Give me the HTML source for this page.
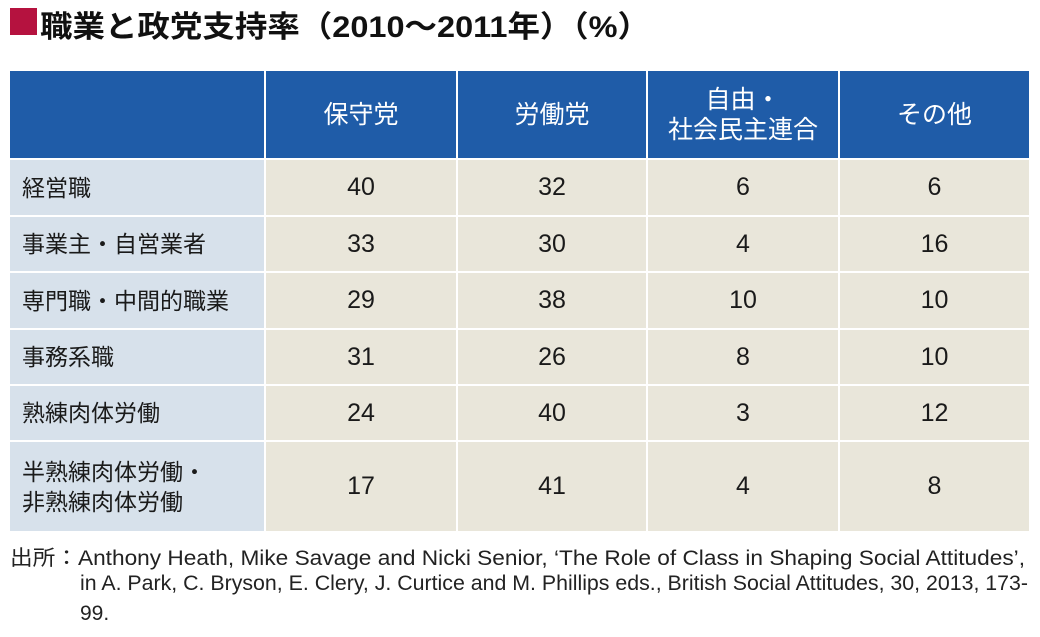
<!DOCTYPE html>
<html><head><meta charset="utf-8">
<style>
body{margin:0;width:1040px;height:637px;background:#fff;position:relative;overflow:hidden;font-family:"Liberation Sans","Noto Sans CJK JP",sans-serif;}
.abs{position:absolute;}
.cell{position:absolute;display:flex;align-items:center;box-sizing:border-box;color:#1a1a1a;font-size:25px;}
.hd{background:#1f5ca8;color:#fff;justify-content:center;text-align:center;line-height:30px;}
.lb{background:#d7e1eb;padding-left:12px;font-size:23px;line-height:30px;}
.dt{background:#e9e6da;justify-content:center;}
.fn{position:absolute;font-size:21px;white-space:nowrap;color:#222;transform-origin:0 0;}
</style></head><body>
<div class="abs" style="left:10px;top:8px;width:27px;height:27px;background:#b5123f"></div>
<div class="abs" id="title" style="left:40px;top:2px;font-size:30px;font-weight:bold;white-space:nowrap;color:#111;transform-origin:0 0">職業と政党支持率（2010～2011年）（%）</div>
<div id="table"></div>
<div class="fn" id="f1" style="left:10px;top:542px">出所：Anthony Heath, Mike Savage and Nicki Senior, ‘The Role of Class in Shaping Social Attitudes’,</div>
<div class="fn" id="f2" style="left:80px;top:572px">in A. Park, C. Bryson, E. Clery, J. Curtice and M. Phillips eds., British Social Attitudes, 30, 2013, 173-</div>
<div class="fn" style="left:80px;top:602px">99.</div>
<script>
const parties=["保守党","労働党","自由・<br>社会民主連合","その他"];
const occupations=["経営職","事業主・自営業者","専門職・中間的職業","事務系職","熟練肉体労働","半熟練肉体労働・<br>非熟練肉体労働"];
const conservative=[40,33,29,31,24,17];
const labour=[32,30,38,26,40,41];
const libdem=[6,4,10,8,3,4];
const other=[6,16,10,10,12,8];
const cols=[10,266,458,648,840,1031];
const rows=[71,160,217,273,330,386,442,533];
const series=[conservative,labour,libdem,other];
const t=document.getElementById('table');
function mk(cls,x0,x1,y0,y1,html){
  const d=document.createElement('div');
  d.className='cell '+cls;
  d.style.left=x0+'px';d.style.top=y0+'px';
  d.style.width=(x1-x0-2)+'px';d.style.height=(y1-y0-2)+'px';
  d.innerHTML=html;t.appendChild(d);return d;
}
let c=mk('hd',cols[0],cols[1],rows[0],rows[1],'');


parties.forEach((p,i)=>{
  const h=mk('hd',cols[i+1],cols[i+2],rows[0],rows[1],p);
  
  
});
occupations.forEach((o,r)=>{
  const l=mk('lb',cols[0],cols[1],rows[r+1],rows[r+2],o);
  
  
  series.forEach((s,i)=>{
    const d=mk('dt',cols[i+1],cols[i+2],rows[r+1],rows[r+2],String(s[r]));
    
    
  });
});
function fit(id,w){const e=document.getElementById(id);const cw=e.getBoundingClientRect().width;e.style.transform='scaleX('+(w/cw)+')';}
fit('f1',1015);fit('f2',948);fit('title',610);
</script>
</body></html>
